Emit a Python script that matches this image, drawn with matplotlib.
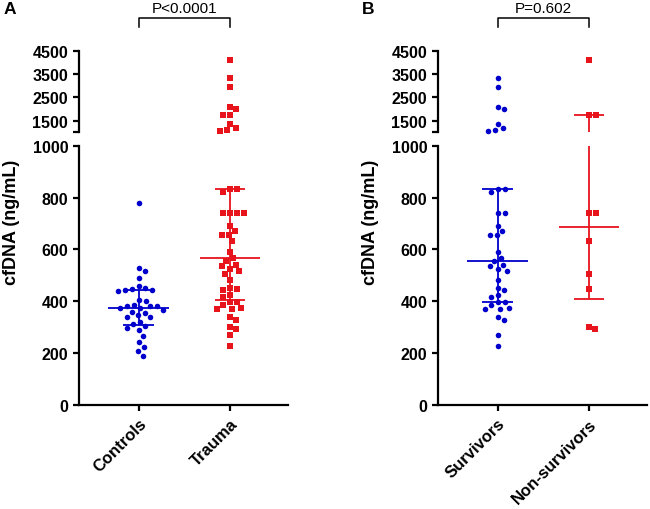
import matplotlib.pyplot as plt
import numpy as np

plt.rcParams['font.family'] = ['Liberation Sans', 'DejaVu Sans']
plt.rcParams['font.weight'] = 'bold'

# cfDNA values (ng/mL)
controls = [779, 527, 515, 489, 457, 450, 447, 444, 444, 440, 404, 402, 385,
            382, 381, 380, 372, 372, 367, 359, 353, 346, 340, 337, 320, 312,
            303, 296, 288, 266, 241, 222, 206, 187]
survivors = [3317, 2931, 2100, 2014, 1358, 1200, 1087, 1044,
             833, 833, 822, 740, 740, 690, 671, 657, 656, 590, 566, 556, 541,
             534, 524, 517, 483, 451, 443, 424, 415, 395, 395, 386, 373, 370,
             370, 340, 328, 270, 228]
non_survivors = [4114, 1744, 1744, 740, 740, 633, 505, 447, 301, 291]
trauma = survivors + non_survivors

# median, q1, q3 as drawn
controls_stats = (373, 308, 444)
trauma_stats = (567, 404, 833)
survivors_stats = (554, 395, 833)
non_survivors_stats = (685, 408, 1744)

labels_a = ['Controls', 'Trauma']
labels_b = ['Survivors', 'Non-survivors']
p_a = 'P<0.0001'
p_b = 'P=0.602'

BLUE = '#0000cc'
RED = '#e8141c'
BREAK = 1000


def swarm_x(ax, x0, values, gap=7.0):
    # simple beeswarm in pixel space
    pts = ax.transData.transform(np.column_stack([np.full(len(values), x0), values]))
    ys = pts[:, 1]
    px_per_unit = ax.transData.transform([[1, 0]])[0, 0] - ax.transData.transform([[0, 0]])[0, 0]
    xs = np.zeros(len(values))
    placed = []
    for i in np.argsort(-ys):
        y = ys[i]
        cands = [0.0]
        for (px, py) in placed:
            dy = y - py
            if abs(dy) < gap:
                dx = np.sqrt(gap ** 2 - dy ** 2)
                cands += [px + dx, px - dx]
        for c in sorted(cands, key=abs):
            if all((c - px) ** 2 + (y - py) ** 2 >= gap ** 2 - 1e-6 for px, py in placed):
                xs[i] = c
                placed.append((c, y))
                break
    return x0 + xs / px_per_unit


def draw_group(ax_top, ax_bot, x0, values, stats, color, marker, size):
    values = np.asarray(values, dtype=float)
    for ax, mask in ((ax_bot, values <= BREAK), (ax_top, values > BREAK)):
        v = values[mask]
        if len(v) == 0:
            continue
        xs = swarm_x(ax, x0, v)
        ax.scatter(xs, v, s=size, marker=marker, color=color, linewidths=0,
                   zorder=3, clip_on=False)
    med, q1, q3 = stats
    for ax in (ax_top, ax_bot):
        ax.vlines(x0, q1, q3, color=color, lw=1.3, zorder=2)
        ax.hlines(med, x0 - 0.33, x0 + 0.33, color=color, lw=1.3, zorder=2)
        ax.hlines([q1, q3], x0 - 0.165, x0 + 0.165, color=color, lw=1.3, zorder=2)


def make_panel(fig, left, groups, labels, stats, ptext, letter):
    w = 0.321
    ax_bot = fig.add_axes([left, 0.2045, w, 0.5078])
    ax_top = fig.add_axes([left, 0.7386, w, 0.16])

    for ax in (ax_top, ax_bot):
        ax.set_xlim(-0.65, 1.64)
        ax.spines['top'].set_visible(False)
        ax.spines['right'].set_visible(False)
        for s in ax.spines.values():
            s.set_linewidth(1.6)
        ax.tick_params(direction='out', length=4.5, width=1.6, labelsize=11.5)

    ax_bot.set_ylim(0, BREAK)
    ax_bot.set_yticks(np.arange(0, 1001, 200))
    ax_bot.set_xticks([0, 1])
    ax_bot.set_xticklabels(labels, rotation=45, ha='right', rotation_mode='anchor',
                           fontsize=12)

    ax_top.set_ylim(BREAK, 4500)
    top_ticks = [1000, 1500, 2500, 3500, 4500]
    ax_top.set_yticks(top_ticks)
    ax_top.set_yticklabels([''] + [str(t) for t in top_ticks[1:]])
    ax_top.spines['bottom'].set_visible(False)
    ax_top.set_xticks([])

    draw_group(ax_top, ax_bot, 0, groups[0], stats[0], BLUE, 'o', 16)
    draw_group(ax_top, ax_bot, 1, groups[1], stats[1], RED, 's', 13)

    # significance bracket
    tr = ax_top.get_xaxis_transform()
    ax_top.plot([0, 0, 1, 1], [1.29, 1.397, 1.397, 1.29], transform=tr,
                color='black', lw=1.1, clip_on=False)
    ax_top.text(0.5, 1.52, ptext, transform=tr, ha='center', va='center',
                fontsize=11, fontweight='normal')

    fig.text(left - 0.104, 0.563, 'cfDNA (ng/mL)', rotation=90, ha='center',
             va='center', fontsize=13)
    fig.text(left - 0.117, 0.982, letter, ha='left', va='center', fontsize=12.5)


fig = plt.figure(figsize=(6.5, 5.1), dpi=100)
make_panel(fig, 0.122, (controls, trauma), labels_a,
           (controls_stats, trauma_stats), p_a, 'A')
make_panel(fig, 0.6743, (survivors, non_survivors), labels_b,
           (survivors_stats, non_survivors_stats), p_b, 'B')

fig.savefig('out.png', dpi=100)
